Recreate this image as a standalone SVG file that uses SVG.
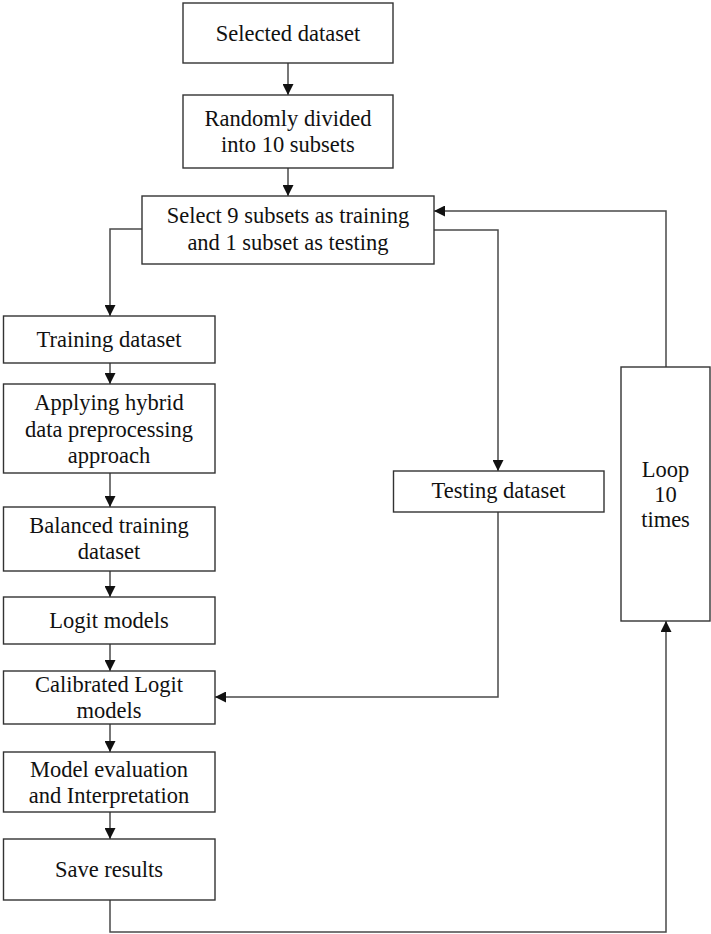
<svg xmlns="http://www.w3.org/2000/svg" width="711" height="934" viewBox="0 0 711 934">
<defs>
<style>
.box{fill:#fff;stroke:#333;stroke-width:1.4}
.t{font-family:"Liberation Serif","Times New Roman",serif;font-size:22.5px;fill:#111;text-anchor:middle}
.c{fill:none;stroke:#4a4a4a;stroke-width:1.5}
</style>
<marker id="ah" markerUnits="userSpaceOnUse" markerWidth="11" markerHeight="11" refX="11" refY="5.5" orient="auto" viewBox="0 0 11 11">
<path d="M0,0 L11,5.5 L0,11 z" fill="#111"/>
</marker>
</defs>
<rect width="711" height="934" fill="#fff"/>
<g id="connectors">
<path class="c" d="M288,63 V95" marker-end="url(#ah)"/>
<path class="c" d="M288,168 V196" marker-end="url(#ah)"/>
<path class="c" d="M142,229 H110 V316" marker-end="url(#ah)"/>
<path class="c" d="M434,230 H498 V471" marker-end="url(#ah)"/>
<path class="c" d="M110,363 V384" marker-end="url(#ah)"/>
<path class="c" d="M110,473 V507" marker-end="url(#ah)"/>
<path class="c" d="M110,571 V597" marker-end="url(#ah)"/>
<path class="c" d="M110,644 V671" marker-end="url(#ah)"/>
<path class="c" d="M110,724 V752" marker-end="url(#ah)"/>
<path class="c" d="M110,812 V839" marker-end="url(#ah)"/>
<path class="c" d="M498,512 V697 H215" marker-end="url(#ah)"/>
<path class="c" d="M110,900 V932 H666 V621" marker-end="url(#ah)"/>
<path class="c" d="M666,367 V211 H434" marker-end="url(#ah)"/>
</g>
<g id="selected">
<rect class="box" x="183" y="3" width="210" height="60"/>
<text class="t" x="288" y="41">Selected dataset</text>
</g>
<g id="divided">
<rect class="box" x="183" y="95" width="210" height="73"/>
<text class="t" x="288" y="126">Randomly divided</text>
<text class="t" x="288" y="152">into 10 subsets</text>
</g>
<g id="select9">
<rect class="box" x="142" y="196" width="292" height="68"/>
<text class="t" x="288" y="223">Select 9 subsets as training</text>
<text class="t" x="288" y="250">and 1 subset as testing</text>
</g>
<g id="training">
<rect class="box" x="3.5" y="316" width="211.5" height="47"/>
<text class="t" x="109" y="347">Training dataset</text>
</g>
<g id="applying">
<rect class="box" x="3.5" y="384" width="211.5" height="89"/>
<text class="t" x="109" y="410">Applying hybrid</text>
<text class="t" x="109" y="437">data preprocessing</text>
<text class="t" x="109" y="463">approach</text>
</g>
<g id="balanced">
<rect class="box" x="3.5" y="507" width="211.5" height="64"/>
<text class="t" x="109" y="533">Balanced training</text>
<text class="t" x="109" y="559">dataset</text>
</g>
<g id="logit">
<rect class="box" x="3.5" y="597" width="211.5" height="47"/>
<text class="t" x="109" y="628">Logit models</text>
</g>
<g id="calibrated">
<rect class="box" x="3.5" y="671" width="211.5" height="53"/>
<text class="t" x="109" y="692">Calibrated Logit</text>
<text class="t" x="109" y="718">models</text>
</g>
<g id="evaluation">
<rect class="box" x="3.5" y="752" width="211.5" height="60"/>
<text class="t" x="109" y="777">Model evaluation</text>
<text class="t" x="109" y="803">and Interpretation</text>
</g>
<g id="save">
<rect class="box" x="3.5" y="839" width="211.5" height="61"/>
<text class="t" x="109" y="877">Save results</text>
</g>
<g id="testing">
<rect class="box" x="393.5" y="471" width="210.5" height="41"/>
<text class="t" x="498.5" y="498">Testing dataset</text>
</g>
<g id="loop">
<rect class="box" x="621" y="367" width="89" height="254"/>
<text class="t" x="665.5" y="477">Loop</text>
<text class="t" x="665.5" y="502">10</text>
<text class="t" x="665.5" y="527">times</text>
</g>
</svg>
